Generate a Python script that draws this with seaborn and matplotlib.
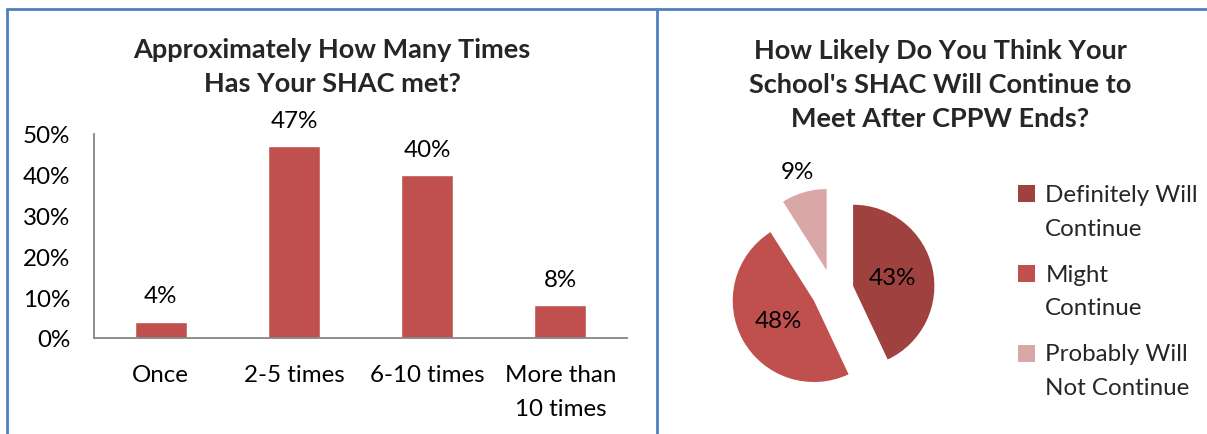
import matplotlib
matplotlib.use("Agg")
import matplotlib.pyplot as plt
from matplotlib.lines import Line2D
from matplotlib.patches import Patch, Rectangle
from matplotlib.legend_handler import HandlerPatch
import seaborn as sns
import pandas as pd

# ---- data ----
bar_categories = ["Once", "2-5 times", "6-10 times", "More than\n10 times"]
bar_values = [0.04, 0.47, 0.40, 0.08]
bar_title = "Approximately How Many Times\nHas Your SHAC met?"

pie_labels = ["Definitely Will\nContinue", "Might\nContinue", "Probably Will\nNot Continue"]
pie_values = [43, 48, 9]
pie_title = "How Likely Do You Think Your\nSchool's SHAC Will Continue to\nMeet After CPPW Ends?"

y_ticks = [0.0, 0.1, 0.2, 0.3, 0.4, 0.5]

# ---- style ----
sns.set_style("white")
plt.rcParams["font.family"] = ["Lato", "DejaVu Sans"]
FS = 17.4
TFS = 19.5

W, H = 1207, 435
fig = plt.figure(figsize=(W / 100, H / 100), dpi=100)

BAR_COLOR = "#C0504D"
PIE_COLORS = ["#9E413F", "#C0504D", "#D9A7A6"]
BORDER = "#4F81BD"
AXIS_GRAY = "#868686"

# ---- bar chart ----
ax = fig.add_axes([94 / W, 1 - 339 / H, (627 - 94) / W, (339 - 135) / H])
df = pd.DataFrame({"cat": bar_categories, "val": bar_values})
sns.barplot(data=df, x="cat", y="val", color=BAR_COLOR, saturation=1, width=0.39, ax=ax)
ax.set_ylim(0, 0.5)
ax.set_yticks(y_ticks)
ax.set_yticklabels([f"{int(round(t * 100))}%" for t in y_ticks], fontsize=FS)
ax.set_xlabel("")
ax.set_ylabel("")
ax.tick_params(axis="both", length=0, labelsize=FS, colors="black")
ax.tick_params(axis="y", pad=17)
ax.tick_params(axis="x", pad=19)
for lbl in ax.get_xticklabels():
    lbl.set_linespacing(1.72)
    lbl.set_verticalalignment("top")
for s in ["top", "right"]:
    ax.spines[s].set_visible(False)
for s in ["left", "bottom"]:
    ax.spines[s].set_color(AXIS_GRAY)
    ax.spines[s].set_linewidth(1.3)
ax.bar_label(ax.containers[0], labels=[f"{int(round(v * 100))}%" for v in bar_values],
             padding=11, fontsize=FS, color="black")
ax.set_facecolor("none")

fig.text(332 / W, 1 - 67 / H, bar_title, ha="center", va="center", fontsize=TFS,
         fontweight="bold", linespacing=1.45)

# ---- pie chart ----
cx, cy, half = 832.5, 291.6, 130
pax = fig.add_axes([(cx - half) / W, 1 - (cy + half) / H, 2 * half / W, 2 * half / H])
wedges, texts, autotexts = pax.pie(
    pie_values, colors=PIE_COLORS, startangle=90, counterclock=False,
    explode=[0.26] * len(pie_values), radius=1.0,
    autopct=lambda p: f"{p:.0f}%", pctdistance=0.5,
    textprops={"fontsize": FS, "color": "black"},
    wedgeprops={"linewidth": 0},
)
# move the small slice's label outside the wedge
x0, y0 = autotexts[2].get_position()
ox, oy = 0.26 * x0 / (0.26 + 0.5), 0.26 * y0 / (0.26 + 0.5)
ux, uy = (x0 - ox) / 0.5, (y0 - oy) / 0.5
autotexts[2].set_position((ox + 1.27 * ux, oy + 1.27 * uy))
pax.set_xlim(-1.6, 1.6)
pax.set_ylim(-1.6, 1.6)
pax.set_aspect("auto")


def top_square(legend, orig_handle, xdescent, ydescent, width, height, fontsize):
    # square aligned with the first text line of a two-line label
    shift = 0.73 * fontsize
    return Rectangle((-xdescent, -ydescent + shift), width, height)


handles = [Patch(facecolor=c, edgecolor="none") for c in PIE_COLORS]
leg = fig.legend(handles, pie_labels, loc="upper left", bbox_to_anchor=(996 / W, 1 - 163 / H),
                 frameon=False, fontsize=FS, handlelength=0.72, handleheight=0.72,
                 handletextpad=0.42, labelspacing=1.03,
                 handler_map={Patch: HandlerPatch(patch_func=top_square)})
for t in leg.get_texts():
    t.set_linespacing(1.76)

fig.text(940 / W, 1 - 85 / H, pie_title, ha="center", va="center", fontsize=TFS,
         fontweight="bold", linespacing=1.5)

# ---- panel borders ----
lw = 2.0
fig.add_artist(Line2D([7 / W, 1], [1 - 9.5 / H, 1 - 9.5 / H], color=BORDER, lw=lw))
fig.add_artist(Line2D([7 / W, 7 / W], [0, 1 - 9.5 / H], color=BORDER, lw=lw))
fig.add_artist(Line2D([657 / W, 657 / W], [0, 1 - 9.5 / H], color=BORDER, lw=lw))

fig.savefig("out.png", dpi=100)
